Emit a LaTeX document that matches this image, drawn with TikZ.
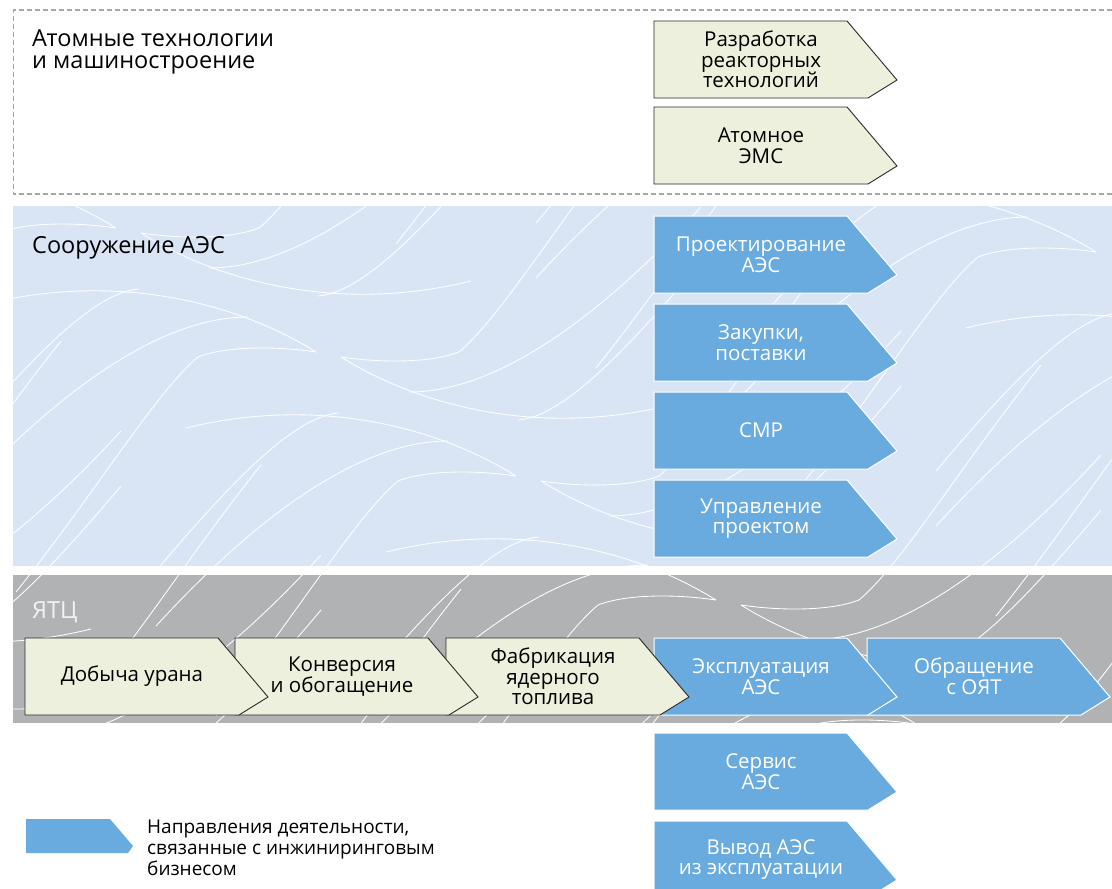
\documentclass[tikz,border=0pt]{standalone}
\usepackage{fontspec}
\setmainfont{Open Sans}
\definecolor{bandblue}{HTML}{D9E5F5}
\definecolor{bandgray}{HTML}{B1B2B4}
\definecolor{boxblue}{HTML}{69ABDF}
\definecolor{boxgreen}{HTML}{EDF0DC}
\definecolor{dashgray}{HTML}{A8A8A8}
\definecolor{edgedark}{HTML}{2A2A2A}
\definecolor{yatc}{HTML}{F2F2F2}
\newcommand\boxfont{\fontsize{20.5}{20.6}\selectfont}
\newcommand\titlefont{\fontsize{23.5}{22}\selectfont}
\newcommand\legfont{\fontsize{19}{21}\selectfont}
\tikzset{
  greenbox/.style={fill=boxgreen, draw=edgedark, line width=0.9pt, line join=miter},
  bluebox/.style={fill=boxblue, draw=white, line width=1pt, line join=miter},
  greenboxtext/.style={text=black, font=\boxfont, align=center, inner sep=0pt},
  blueboxtext/.style={text=white, font=\boxfont, align=center, inner sep=0pt},
  title/.style={text=black, font=\titlefont, align=left, inner sep=0pt, anchor=north west},
  wline/.style={draw=white, line width=0.85pt},
}
% #1 name, #2 left x, #3 top y, #4 kind (greenbox/bluebox), #5 text
\newcommand\procbox[5]{%
  \path[#4] (#2,#3) -- ++(193,0) -- ++(50,59) -- ++(-29,18) -- ++(-214,0) -- cycle;
  \node[#4text] (#1) at ({#2+107},{#3+38.5}) {#5};
}
% background wave motif: a right-pointing leaf tip at (0,0) and its
% point-mirrored partner with the tip at (25,5)
\newcommand\wavemotif{%
  \draw[wline] (-330,-48) .. controls (-200,-80) and (-80,-50) .. (0,0);
  \draw[wline] (-360,95) .. controls (-280,0) and (-220,-60) .. (-177,-63);
  \draw[wline] (-360,150) .. controls (-250,30) and (-150,-35) .. (-68,-35);
  \draw[wline] (0,0) .. controls (-40,-6) and (-90,-6) .. (-118,5)
               .. controls (-160,40) and (-220,140) .. (-300,240);
  \draw[wline] (355,53) .. controls (225,85) and (105,55) .. (25,5);
  \draw[wline] (385,-90) .. controls (305,5) and (245,65) .. (202,68);
  \draw[wline] (385,-145) .. controls (275,-25) and (175,40) .. (93,40);
  \draw[wline] (25,5) .. controls (65,11) and (115,11) .. (143,0)
               .. controls (185,-35) and (245,-135) .. (325,-235);
}
\begin{document}
\begin{tikzpicture}[x=1pt, y=-1pt]
\useasboundingbox (0,0) rectangle (1112,889);
\fill[white] (0,0) rectangle (1112,889);

% dashed frame of the top group
\draw[dashgray, line width=1.2pt, dash pattern=on 5pt off 3pt]
  (1112,10) -- (13.5,10) -- (13.5,194) -- (1112,194);

% bands
\fill[bandblue] (13,206) rectangle (1112,566);
\fill[bandgray] (13,575) rectangle (1112,723);
\begin{scope}
  \clip (13,206) rectangle (1112,566) (13,575) rectangle (1112,723);
  \foreach \i in {-5,...,6}{
    \foreach \j in {-2,...,3}{
      \begin{scope}[shift={({316+200*\i+780*\j},{352+124*\i-100*\j})}]
        \wavemotif
      \end{scope}
    }
  }
\end{scope}

% titles
\node[title] (t1) at (32,29) {Атомные технологии\\и машиностроение};
\node[title] (t2) at (32,236) {Сооружение АЭС};
\node[title, text=yatc] (t3) at (32,602) {ЯТЦ};

% top group
\procbox{razr}{654}{21}{greenbox}{Разработка\\реакторных\\технологий}
\procbox{ems}{654}{107}{greenbox}{Атомное\\ЭМС}

% construction group
\procbox{proj}{654}{216}{bluebox}{Проектирование\\АЭС}
\procbox{zak}{654}{304}{bluebox}{Закупки,\\поставки}
\procbox{smr}{654}{392}{bluebox}{СМР}
\procbox{upr}{654}{480}{bluebox}{Управление\\проектом}

% fuel cycle row (drawn right to left so each tip lies on the next box)
\procbox{oyat}{867}{638}{bluebox}{Обращение\\с ОЯТ}
\procbox{expl}{654}{638}{bluebox}{Эксплуатация\\АЭС}
\procbox{fab}{446}{638}{greenbox}{Фабрикация\\ядерного\\топлива}
\procbox{konv}{235}{638}{greenbox}{Конверсия\\и обогащение}
\procbox{dob}{25}{638}{greenbox}{Добыча урана}

% below
\procbox{serv}{654}{733}{bluebox}{Сервис\\АЭС}
\procbox{vyv}{654}{821}{bluebox}{Вывод АЭС\\из эксплуатации}

% legend
\fill[boxblue] (26,819) -- ++(84,0) -- ++(23,27) -- ++(-5,7) -- ++(-102,0) -- cycle;
\node[text=black, font=\legfont, align=left, inner sep=0pt, anchor=north west] (leg) at (147,820)
  {Направления деятельности,\\связанные с инжиниринговым\\бизнесом};
\end{tikzpicture}
\end{document}
